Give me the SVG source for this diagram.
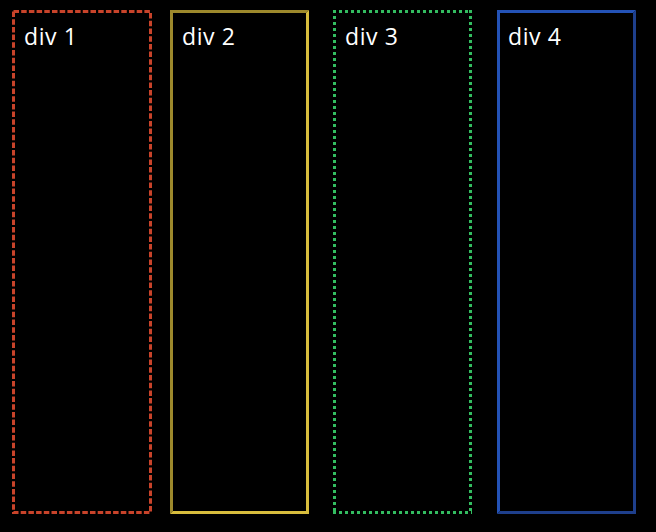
<svg xmlns="http://www.w3.org/2000/svg" width="656" height="532" viewBox="0 0 656 532">
<style>
.lbl{font-family:"Open Sans","Noto Sans",sans-serif;font-size:23px;letter-spacing:0.6px;fill:#ffffff}
</style>
<rect x="0" y="0" width="656" height="532" fill="#000000"/>
<g id="div1">
<rect x="13.5" y="11.5" width="137" height="501" fill="none" stroke="#c8432a" stroke-width="3" stroke-dasharray="5.5 2.2"/>
<text class="lbl" x="24" y="44.5">div 1</text>
</g>
<g id="div2">
<polygon points="170,10 309,10 306,13 173,13 173,511 170,514" fill="#9d892c"/>
<polygon points="309,10 309,514 170,514 173,511 306,511 306,13" fill="#d7bd3d"/>
<text class="lbl" x="182" y="44.5">div 2</text>
</g>
<g id="div3" stroke="#33bd60" stroke-width="3" stroke-dasharray="3 3" fill="none">
<line x1="333" y1="11.5" x2="472" y2="11.5"/>
<line x1="333" y1="512.5" x2="472" y2="512.5"/>
<line x1="334.5" y1="10" x2="334.5" y2="514"/>
<line x1="470.5" y1="10" x2="470.5" y2="514"/>
<text class="lbl" x="345" y="44.5" stroke="none">div 3</text>
</g>
<g id="div4">
<polygon points="497,10 636,10 633,13 500,13 500,511 497,514" fill="#2352b6"/>
<polygon points="636,10 636,514 497,514 500,511 633,511 633,13" fill="#1e3f8c"/>
<text class="lbl" x="508" y="44.5">div 4</text>
</g>
</svg>
